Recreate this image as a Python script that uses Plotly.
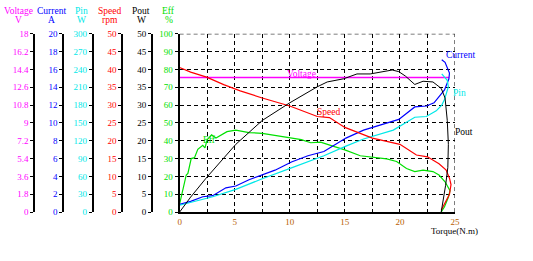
import plotly.graph_objects as go

W, H = 533, 261

# ---------------- data ----------------
volt_t = [0, 24.45]
volt_v = [13.6, 13.6]

speed_t = [0, 1.0, 2.45, 4.0, 5.5, 7.5, 10.0, 12.5, 13.6, 15.0, 17.5, 20.0, 21.5,
           22.5, 23.55, 24.2, 24.5, 24.64, 24.5, 24.05, 23.75]
speed_v = [40.55, 39.25, 37.85, 35.75, 34.0, 32.0, 29.75, 26.8, 26.5, 23.75, 20.75,
           19.0, 16.0, 15.5, 13.55, 11.75, 9.5, 7.7, 5.0, 2.3, 0.5]

eff_t = [0, 0.3, 0.6, 0.75, 1.05, 1.35, 1.65, 2.1, 2.3, 2.5, 2.9, 3.3, 4.3, 5.1, 6.3,
         7.5, 8.4, 9.9, 11.05, 11.9, 12.8, 13.7, 15.0, 16.4, 17.5, 18.8, 19.7, 20.6,
         21.35, 22.1, 23.0, 23.55, 24.1, 24.55, 24.4, 24.05, 23.75]
eff_v = [4.6, 13.6, 20.8, 21.7, 30.0, 30.5, 35.2, 37.4, 36.0, 40.6, 43.3, 41.5, 45.1,
         46.0, 44.6, 44.2, 43.3, 41.5, 40.6, 38.9, 39.2, 37.4, 34.9, 31.6, 30.8, 29.8,
         28.4, 24.4, 22.7, 23.5, 22.7, 20.8, 17.0, 12.0, 8.3, 3.0, 0.0]

pout_t = [0, 1.0, 2.4, 5.1, 7.5, 10.0, 12.5, 13.4, 14.9, 16.1, 17.3, 18.4, 19.3, 19.9,
          20.5, 21.35, 22.1, 23.0, 23.75, 24.1, 24.3, 24.4, 24.35, 24.15, 23.95, 23.75]
pout_v = [0, 4.2, 9.5, 19.0, 25.7, 30.65, 35.15, 36.5, 37.4, 38.75, 38.75, 39.4, 39.85,
          39.4, 38.15, 35.8, 36.7, 36.5, 34.7, 32.0, 25.7, 19.0, 12.5, 7.5, 3.5, 0]

cur_t = [0, 1.0, 2.1, 3.0, 4.2, 5.1, 6.3, 7.5, 8.66, 10.15, 11.65, 13.1, 15.1, 16.7,
         18.2, 19.9, 21.35, 22.4, 23.1, 23.6, 24.05, 24.45, 24.5, 24.1, 23.8]
cur_v = [0.86, 1.2, 1.72, 1.84, 2.72, 2.92, 3.62, 4.16, 4.7, 5.62, 6.32, 6.8, 8.3, 9.2,
         9.74, 10.4, 11.8, 11.9, 12.26, 13.0, 13.7, 14.96, 15.6, 16.8, 17.1]

pin_t = [0, 2.1, 3.0, 5.1, 7.5, 10.15, 13.1, 15.1, 16.7, 19.4, 21.35, 22.4, 23.3,
         23.8, 24.05, 24.4, 24.3, 23.8]
pin_v = [11.4, 21.9, 25.8, 38.1, 56.1, 74.4, 94.8, 111.0, 123.0, 138.0, 159.6, 160.8,
         170.4, 180.0, 189.3, 211.0, 221.7, 232.5]

volt_ticks = ["0", "1.8", "3.6", "5.4", "7.2", "9", "10.8", "12.6", "14.4", "16.2", "18"]
cur_ticks = ["0", "2", "4", "6", "8", "10", "12", "14", "16", "18", "20"]
pin_ticks = ["0", "30", "60", "90", "120", "150", "180", "210", "240", "270", "300"]
speed_ticks = ["0", "5", "10", "15", "20", "25", "30", "35", "40", "45", "50"]
pout_ticks = ["0", "5", "10", "15", "20", "25", "30", "35", "40", "45", "50"]
eff_ticks = ["0", "10", "20", "30", "40", "50", "60", "70", "80", "90", "100"]
x_ticks = [0, 2.5, 5, 7.5, 10, 12.5, 15, 17.5, 20, 22.5, 25]
x_labels = ["0", "", "5", "", "10", "", "15", "", "20", "", "25"]

# ---------------- colours ----------------
C_V = "#FF00FF"
C_I = "#0000FF"
C_P = "#00E8E8"
C_S = "#FF0000"
C_O = "#000000"
C_E = "#00E000"
C_X = "#B86000"

FONT = "Liberation Serif"

fig = go.Figure()
fig.add_trace(go.Scatter(x=volt_t, y=volt_v, yaxis="y2", mode="lines",
                         line=dict(color=C_V, width=1.5)))
fig.add_trace(go.Scatter(x=cur_t, y=cur_v, yaxis="y3", mode="lines",
                         line=dict(color=C_I, width=1.2)))
fig.add_trace(go.Scatter(x=pin_t, y=pin_v, yaxis="y4", mode="lines",
                         line=dict(color=C_P, width=1.2)))
fig.add_trace(go.Scatter(x=speed_t, y=speed_v, yaxis="y5", mode="lines",
                         line=dict(color=C_S, width=1.2)))
fig.add_trace(go.Scatter(x=pout_t, y=pout_v, yaxis="y6", mode="lines",
                         line=dict(color=C_O, width=1)))
fig.add_trace(go.Scatter(x=eff_t, y=eff_v, yaxis="y", mode="lines",
                         line=dict(color=C_E, width=1.2)))

x0, x1 = 180 / W, 459 / W
yb, yt = 1 - 215.3 / H, 1 - 30 / H


def side_axis(pos_px, rng, labels, color):
    n = len(labels) - 1
    vals = [rng * i / n for i in range(n + 1)]
    return dict(overlaying="y", anchor="free", position=pos_px / W, side="left",
                range=[0, rng], tickmode="array", tickvals=vals, ticktext=labels,
                showgrid=False, zeroline=False, showline=True, linecolor="black",
                linewidth=2, ticks="outside", ticklen=3, tickcolor="black",
                tickwidth=1, tickfont=dict(family=FONT, size=9, color=color))


fig.update_layout(
    width=W, height=H, margin=dict(l=0, r=0, t=0, b=0),
    paper_bgcolor="white", plot_bgcolor="white", showlegend=False,
    xaxis=dict(domain=[x0, x1], range=[0, 25], tickmode="array", tickvals=x_ticks,
               ticktext=x_labels, showgrid=True, gridcolor="black", gridwidth=1,
               griddash="4px,3px", zeroline=False, showline=True, linecolor="black",
               linewidth=2, ticks="", tickfont=dict(family=FONT, size=9, color=C_X),
               anchor="y"),
    yaxis=dict(domain=[yb, yt], range=[0, 100], tickmode="array",
               tickvals=list(range(0, 101, 10)), ticktext=eff_ticks,
               showgrid=True, gridcolor="black", gridwidth=1, griddash="4px,3px",
               zeroline=False, showline=True, linecolor="black", linewidth=2,
               ticks="outside", ticklen=3, tickcolor="black",
               tickfont=dict(family=FONT, size=9, color=C_E), anchor="x"),
    yaxis2=side_axis(32.7, 18, volt_ticks, C_V),
    yaxis3=side_axis(62, 20, cur_ticks, C_I),
    yaxis4=side_axis(92, 300, pin_ticks, C_P),
    yaxis5=side_axis(122, 50, speed_ticks, C_S),
    yaxis6=side_axis(152, 50, pout_ticks, C_O),
)

# dashed frame on the right and top (grid at the range ends)
fig.add_shape(type="line", xref="x", yref="y", x0=25, x1=25, y0=0, y1=100,
              line=dict(color="black", width=1, dash="4px,3px"), layer="below")
fig.add_shape(type="line", xref="x", yref="y", x0=0, x1=25, y0=100, y1=100,
              line=dict(color="black", width=1, dash="4px,3px"), layer="below")

# axis titles (two lines each)
titles = [("Voltage", "V", 17, C_V), ("Current", "A", 50, C_I), ("Pin", "W", 81, C_P),
          ("Speed", "rpm", 109, C_S), ("Pout", "W", 141, C_O), ("Eff", "%", 169, C_E)]
for t1, t2, cx, col in titles:
    for txt, py in ((t1, 6), (t2, 15.5)):
        fig.add_annotation(text=txt, xref="paper", yref="paper", x=cx / W, y=1 - py / H,
                           xanchor="center", yanchor="middle", showarrow=False,
                           font=dict(family=FONT, size=9.5, color=col))

fig.add_annotation(text="Torque(N.m)", xref="paper", yref="paper", x=459 / W,
                   y=1 - 235 / H, xanchor="center", yanchor="middle", showarrow=False,
                   font=dict(family=FONT, size=9, color="black"))

# curve labels
curve_labels = [("Voltage", 11.1, 77.5, "center", C_V), ("Speed", 13.5, 56.4, "center", C_S),
                ("Current", 23.99, 88.3, "left", C_I), ("Pin", 24.64, 66.7, "left", C_P),
                ("Pout", 24.85, 45.1, "left", C_O), ("Eff", 1.94, 40.6, "left", C_E)]
for txt, xx, yy, xa, col in curve_labels:
    fig.add_annotation(text=txt, xref="x", yref="y", x=xx, y=yy, xanchor=xa,
                       yanchor="middle", showarrow=False,
                       font=dict(family=FONT, size=9.5, color=col))

fig.write_html("out.html")
